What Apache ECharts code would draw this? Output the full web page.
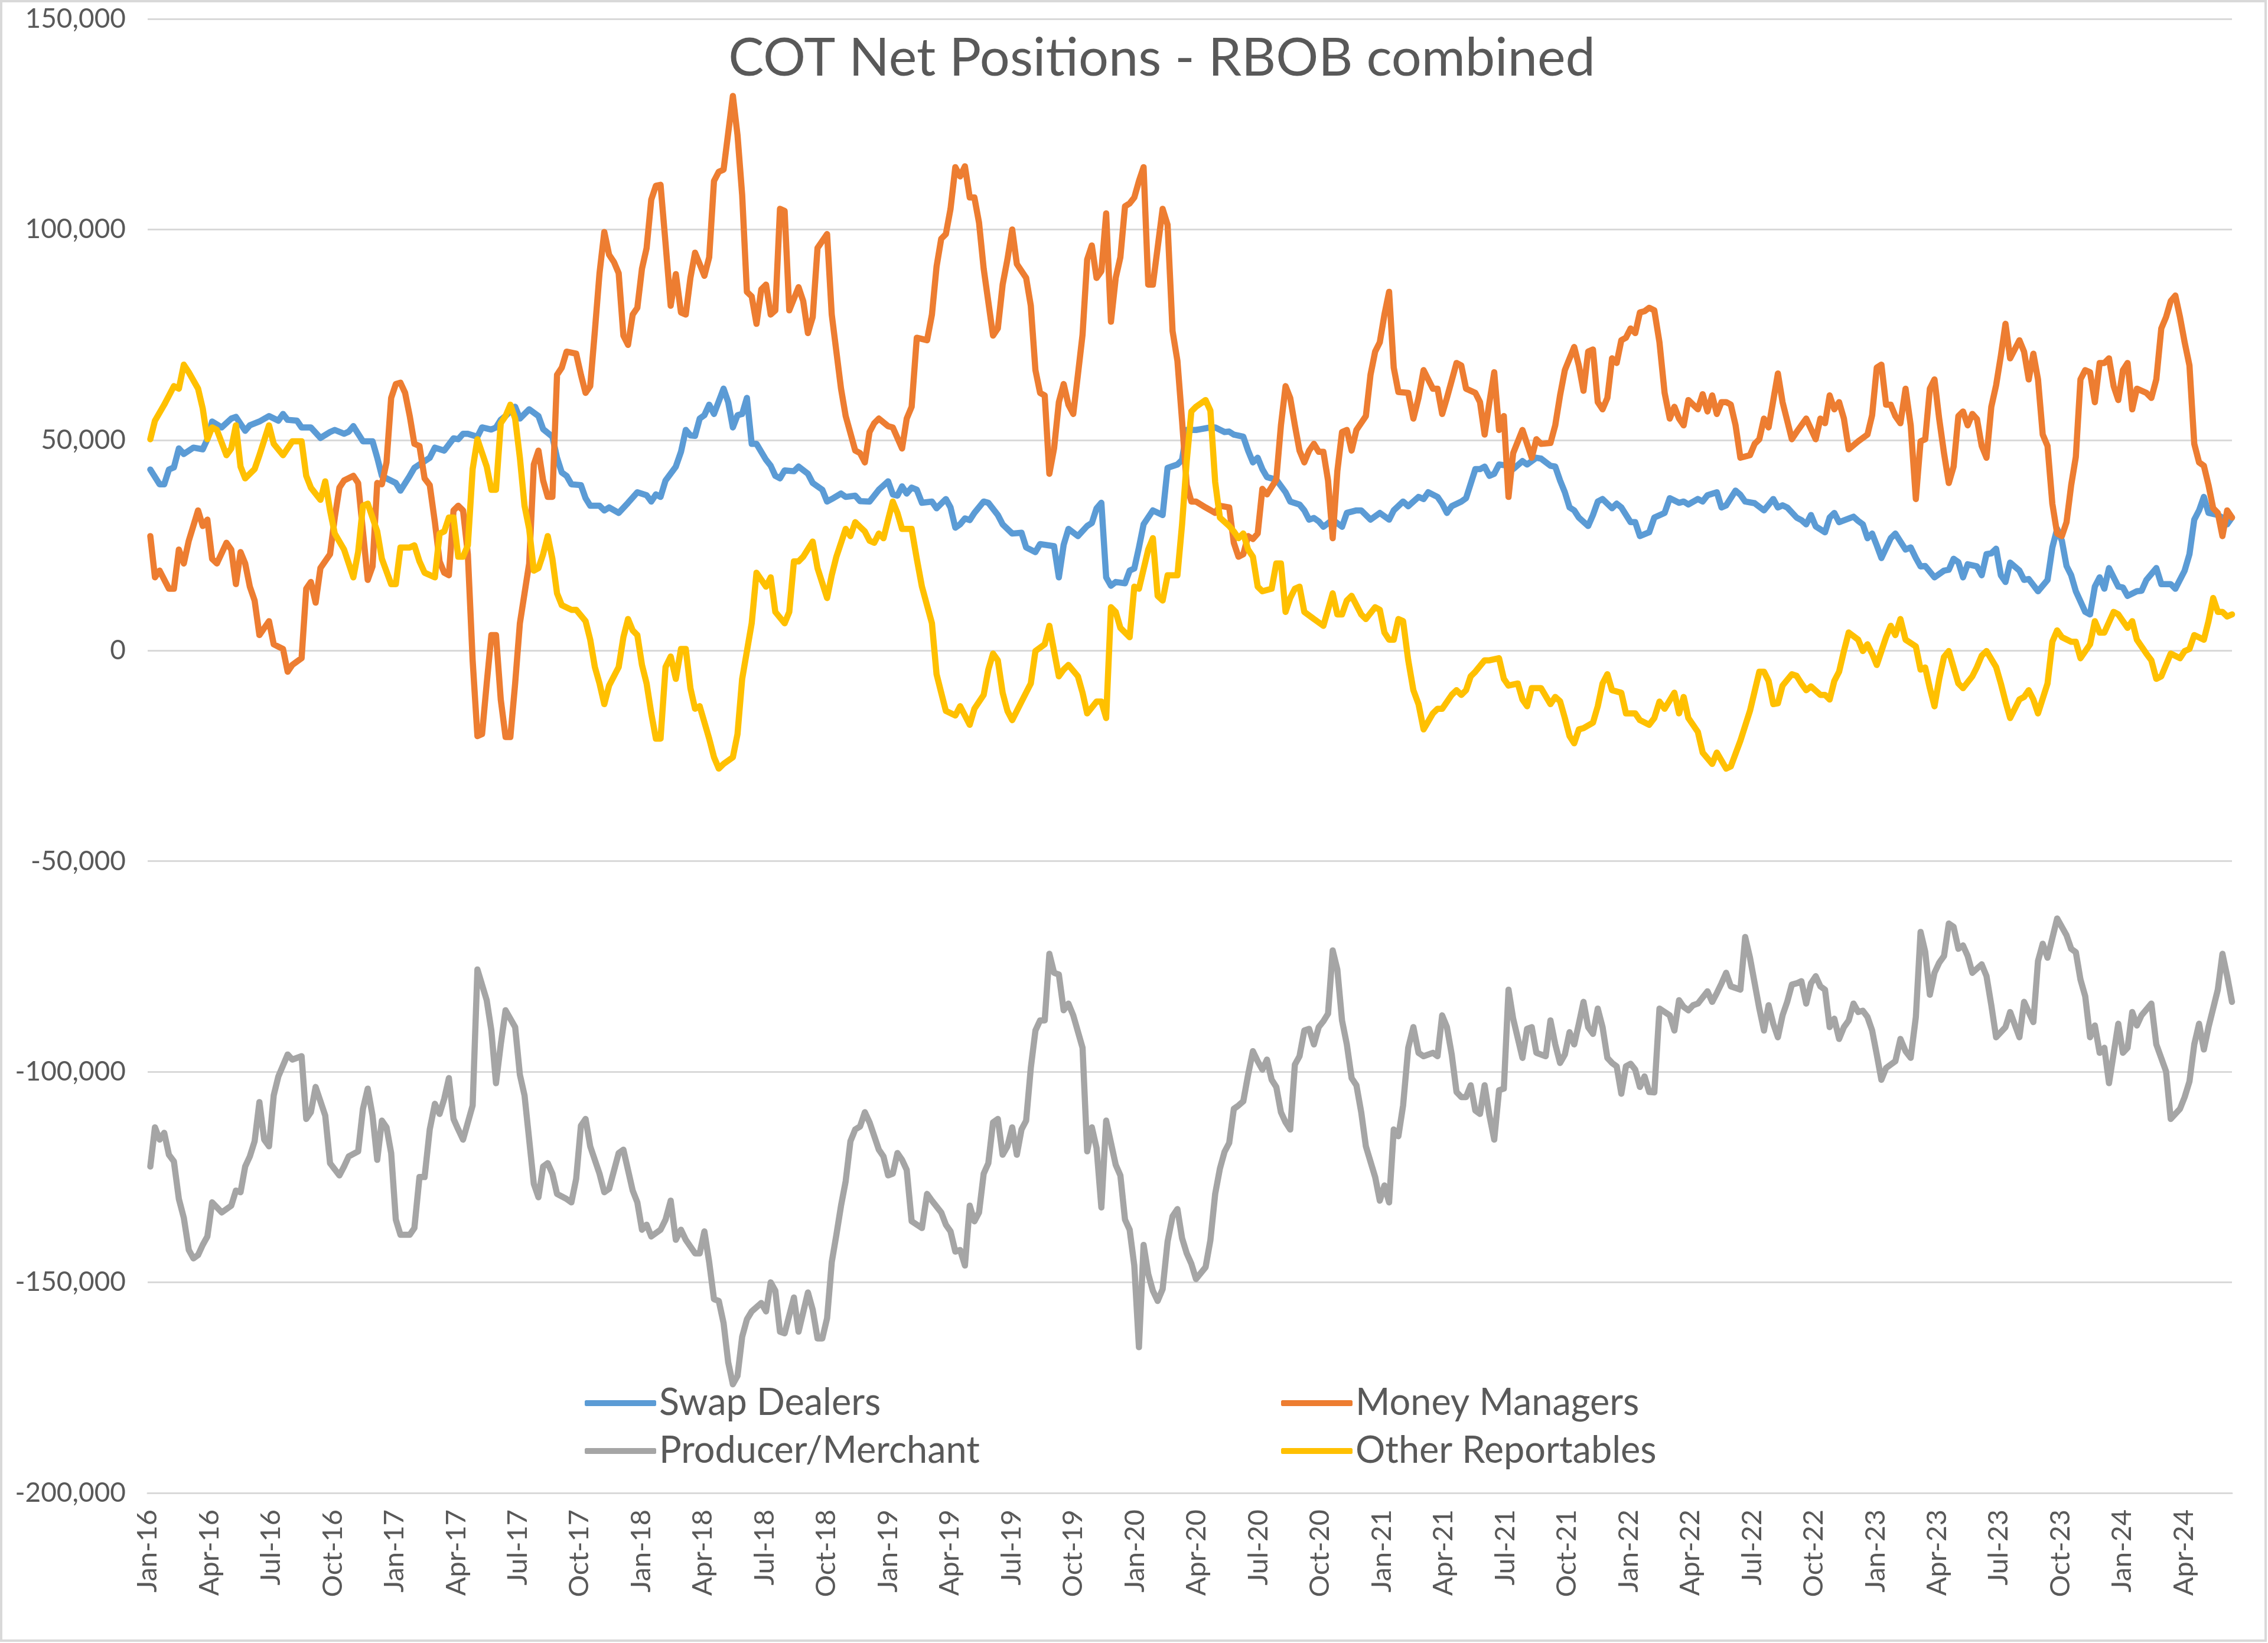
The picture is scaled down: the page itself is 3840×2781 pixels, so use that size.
<!DOCTYPE html>
<html><head><meta charset="utf-8">
<script src="https://cdn.jsdelivr.net/npm/echarts@6/dist/echarts.min.js"></script>
<style>html,body{margin:0;padding:0;background:#fff}#c{width:3840px;height:2781px}</style>
</head><body><div id="c"></div>
<script>
// Weekly COT report dates start on this Tuesday; points are [weekIndex, net position]
const START_DATE = Date.UTC(2016, 0, 5);
const LAST_WEEK = 440;
const QUARTER_LABELS = ['Jan', 'Apr', 'Jul', 'Oct'];
const TITLE = 'COT Net Positions - RBOB combined';

const swapDealers = [[0,43000],[2,39500],[3,39500],[4,43000],[5,43500],[6,48000],[7,46700],[9,48200],[11,47800],[12,50200],[13,54400],[15,53000],[17,55100],[18,55500],[20,52200],[21,53500],[23,54400],[25,55700],[27,54600],[28,56200],[29,54800],[31,54600],[32,53000],[34,53000],[36,50500],[38,51900],[39,52400],[41,51500],[42,52000],[43,53300],[45,49700],[47,49700],[48,45800],[49,41500],[50,40900],[52,39800],[53,38000],[55,41500],[56,43400],[58,45000],[59,45800],[60,48200],[62,47500],[64,50400],[65,50200],[66,51500],[67,51500],[69,50800],[70,53000],[72,52500],[73,53000],[74,54800],[75,55700],[77,57900],[78,55100],[80,57300],[82,55700],[83,52600],[85,50800],[86,45800],[87,42300],[88,41500],[89,39500],[91,39300],[92,36200],[93,34400],[95,34400],[96,33300],[97,34000],[99,32700],[101,35100],[103,37600],[105,36900],[106,35400],[107,37100],[108,36500],[109,40400],[111,43700],[112,47200],[113,52400],[114,51100],[115,51000],[116,55100],[117,55900],[118,58400],[119,56200],[121,62200],[122,59000],[123,53000],[124,55900],[125,56200],[126,60000],[127,49100],[128,49100],[130,45300],[131,43900],[132,41500],[133,40900],[134,42800],[136,42600],[137,43700],[139,42000],[140,39800],[142,38200],[143,35400],[144,36000],[146,37300],[147,36500],[149,36800],[150,35500],[152,35400],[154,38200],[156,40200],[157,37100],[158,36800],[159,39000],[160,37300],[161,38700],[162,38200],[163,35100],[165,35400],[166,33800],[168,36000],[169,34000],[170,29200],[171,30000],[172,31400],[173,31000],[174,32700],[176,35400],[177,35100],[179,32200],[180,30000],[182,27800],[184,28000],[185,24500],[187,23400],[188,25300],[191,24800],[192,17400],[193,25100],[194,28900],[196,27200],[198,29600],[199,30300],[200,33800],[201,35100],[202,17400],[203,15400],[204,16300],[206,16000],[207,19000],[208,19500],[209,24500],[210,30000],[212,33300],[214,32200],[215,43400],[217,44200],[218,45300],[219,52400],[221,52400],[222,52600],[224,53000],[225,53000],[227,51900],[228,52000],[229,51300],[231,50800],[232,47500],[233,44700],[234,45800],[235,43100],[236,41200],[238,40600],[240,37600],[241,35400],[243,34700],[244,33300],[245,31100],[246,31500],[247,30700],[248,29400],[250,31100],[252,29400],[253,32700],[255,33300],[256,33300],[258,31100],[260,32700],[262,31100],[263,33300],[265,35400],[266,34300],[268,36500],[269,36000],[270,37600],[272,36500],[273,34900],[274,32700],[275,34300],[277,35400],[278,36200],[280,43100],[281,43100],[282,43700],[283,41500],[284,42000],[285,44200],[287,43900],[288,43100],[290,45000],[291,44200],[293,45800],[294,45600],[296,43900],[297,43700],[298,40400],[299,37600],[300,34000],[301,33300],[302,31600],[304,29600],[305,32200],[306,35400],[307,36000],[309,33800],[310,34900],[311,34000],[313,30500],[314,30500],[315,27200],[317,28100],[318,31600],[320,32700],[321,36200],[323,35100],[324,35400],[325,34700],[327,36000],[328,35400],[329,36900],[331,37600],[332,34000],[333,34500],[335,38000],[336,37000],[337,35400],[339,35000],[341,33300],[343,36000],[344,34000],[345,34500],[346,34000],[348,31600],[349,31000],[350,30000],[351,32200],[352,29500],[354,28100],[355,31600],[356,32700],[357,30500],[360,31800],[361,30800],[362,30000],[363,26700],[364,27800],[365,25000],[366,22000],[368,26700],[369,27800],[371,24000],[372,24500],[373,22000],[374,20000],[375,20100],[377,17400],[379,19000],[380,19200],[381,21800],[382,21000],[383,17400],[384,20500],[386,20000],[387,17900],[388,22900],[389,23100],[390,24200],[391,17900],[392,16300],[393,20900],[395,19000],[396,16800],[397,17000],[399,14100],[401,16800],[402,24500],[403,28900],[404,26100],[405,20100],[406,17900],[407,14100],[409,9200],[410,8600],[411,15200],[412,17400],[413,14700],[414,19600],[416,15200],[417,15000],[418,13000],[420,14100],[421,14200],[422,16800],[424,19600],[425,15800],[427,15800],[428,14700],[430,19000],[431,22900],[432,31100],[433,33300],[434,36500],[435,32700],[437,32200],[438,31600],[439,30000],[440,31600]];

const moneyManagers = [[0,27200],[1,17400],[2,19000],[4,14700],[5,14700],[6,24000],[7,20700],[8,26100],[10,33300],[11,29600],[12,31100],[13,21800],[14,20700],[16,25600],[17,24000],[18,15800],[19,23400],[20,20700],[21,15200],[22,11900],[23,3700],[25,7000],[26,1500],[28,400],[29,-5000],[30,-3400],[32,-1800],[33,14700],[34,16300],[35,11400],[36,19600],[38,22900],[39,31600],[40,38700],[41,40400],[43,41500],[44,39800],[45,28300],[46,16800],[47,20000],[48,39800],[49,39500],[50,44700],[51,60000],[52,63300],[53,63600],[54,61200],[55,55700],[56,49100],[57,48600],[58,40900],[59,39300],[60,30500],[61,21200],[62,18500],[63,17900],[64,33300],[65,34400],[66,33300],[67,22900],[68,-2300],[69,-20300],[70,-19800],[71,-7800],[72,3700],[73,3700],[74,-11600],[75,-20500],[76,-20500],[77,-7800],[78,6500],[79,13600],[80,20700],[81,44200],[82,47500],[83,40400],[84,36500],[85,36500],[86,65500],[87,67200],[88,71000],[90,70500],[91,65500],[92,61200],[93,62800],[94,75900],[95,89600],[96,99400],[97,94000],[98,92300],[99,89600],[100,74800],[101,72600],[102,79800],[103,81400],[104,90700],[105,95600],[106,107100],[107,110400],[108,110600],[109,96700],[110,81900],[111,89400],[112,80300],[113,79800],[114,88500],[115,94500],[116,91800],[117,89000],[118,93400],[119,111500],[120,113700],[121,114200],[123,131700],[124,122400],[125,108200],[126,85200],[127,84100],[128,77600],[129,85800],[130,86900],[131,79800],[132,80800],[133,104900],[134,104400],[135,80800],[137,86300],[138,83000],[139,75400],[140,79200],[141,95600],[143,98900],[144,79800],[146,62200],[147,55700],[149,47500],[150,46900],[151,44700],[152,51900],[153,54000],[154,55100],[156,53300],[157,53000],[159,48000],[160,55100],[161,57900],[162,74300],[164,73700],[165,79800],[166,91200],[167,97800],[168,98900],[169,104900],[170,114800],[171,112600],[172,115000],[173,107600],[174,107600],[175,101600],[176,90700],[178,74800],[179,76500],[180,86900],[181,92900],[182,100000],[183,91800],[185,88500],[186,81900],[187,66600],[188,61200],[189,60600],[190,42000],[191,48000],[192,59000],[193,63300],[194,58400],[195,56200],[196,65500],[197,75000],[198,92900],[199,96200],[200,88500],[201,90100],[202,103800],[203,78100],[204,88500],[205,93400],[206,105500],[207,106200],[208,107600],[209,111500],[210,114800],[211,86900],[212,86900],[214,104900],[215,101100],[216,75900],[217,68800],[218,54600],[219,39300],[220,35400],[221,35400],[223,34000],[225,32700],[226,34400],[228,34000],[229,25600],[230,22300],[231,22900],[232,27200],[233,26500],[234,27800],[235,38400],[236,37100],[238,40600],[239,53500],[240,62800],[241,60000],[242,53500],[243,47500],[244,44700],[245,47500],[246,49100],[247,47200],[248,47200],[249,40400],[250,26700],[251,42600],[252,51900],[253,52400],[254,47500],[255,52400],[257,55700],[258,65500],[259,71000],[260,73200],[261,79800],[262,85200],[263,67200],[264,61400],[266,61200],[267,55100],[268,60000],[269,66600],[271,62200],[272,62200],[273,56200],[274,60000],[276,68300],[277,67700],[278,62200],[280,61200],[281,59000],[282,51300],[283,59000],[284,66100],[285,52400],[286,55700],[287,36500],[288,46900],[290,52400],[292,45800],[293,50200],[294,49100],[296,49300],[297,53500],[298,60600],[299,66600],[301,72100],[302,67700],[303,61700],[304,71000],[305,71500],[306,59000],[307,57300],[308,60000],[309,69400],[310,68300],[311,73700],[312,74300],[313,76500],[314,75400],[315,80300],[316,80600],[317,81400],[318,80800],[319,73200],[320,61200],[321,55100],[322,57900],[323,55100],[324,53500],[325,59500],[327,57300],[328,60900],[329,56800],[330,60600],[331,56200],[332,59000],[333,59000],[334,58400],[335,53500],[336,45800],[338,46400],[339,49100],[340,50200],[341,55100],[342,53000],[344,65800],[345,59000],[346,54600],[347,50200],[348,51900],[350,55100],[352,50200],[353,55100],[354,54000],[355,60600],[356,57300],[357,59000],[358,55100],[359,47800],[361,49700],[363,51300],[364,55900],[365,67200],[366,67900],[367,58400],[368,58400],[369,55700],[370,54000],[371,62200],[372,53500],[373,36000],[374,49700],[375,50200],[376,62200],[377,64400],[378,55000],[379,46900],[380,39800],[381,43700],[382,55700],[383,56800],[384,53500],[385,56200],[386,55000],[387,48600],[388,45800],[389,57900],[390,63000],[391,70000],[392,77600],[393,69400],[395,73700],[396,71000],[397,64400],[398,70500],[399,64400],[400,51300],[401,48600],[402,34900],[403,27800],[404,27200],[405,30500],[406,39300],[407,46000],[408,64400],[409,66600],[410,66100],[411,59000],[412,68300],[413,68300],[414,69400],[415,62800],[416,59500],[417,66600],[418,68300],[419,57300],[420,62200],[422,61200],[423,60000],[424,64400],[425,76500],[426,79200],[427,83000],[428,84300],[429,79200],[430,73200],[431,67700],[432,49100],[433,44700],[434,43900],[435,39300],[436,33800],[437,32700],[438,27200],[439,33300],[440,31600]];

const producerMerchant = [[0,-122500],[1,-113200],[2,-116100],[3,-114500],[4,-119700],[5,-121300],[6,-130200],[7,-134700],[8,-142300],[9,-144300],[10,-143500],[11,-141100],[12,-139100],[13,-131000],[14,-132200],[15,-133400],[17,-131800],[18,-128200],[19,-128600],[20,-122500],[21,-120100],[22,-116500],[23,-107200],[24,-116100],[25,-117700],[26,-105600],[27,-101100],[29,-95900],[30,-97100],[32,-96300],[33,-111200],[34,-109600],[35,-103600],[37,-110400],[38,-121700],[40,-124600],[41,-122500],[42,-120100],[44,-118900],[45,-108800],[46,-104000],[47,-110400],[48,-120900],[49,-111600],[50,-113200],[51,-119300],[52,-135100],[53,-138700],[55,-138700],[56,-137100],[57,-125000],[58,-125000],[59,-113700],[60,-107600],[61,-110000],[62,-106400],[63,-101500],[64,-111200],[65,-113700],[66,-116100],[68,-108000],[69,-75700],[71,-83000],[72,-90200],[73,-102700],[74,-93500],[75,-85400],[77,-89400],[78,-100700],[79,-105600],[81,-126600],[82,-129800],[83,-122500],[84,-121700],[85,-124200],[86,-129000],[88,-130200],[89,-131000],[90,-125400],[91,-112800],[92,-111200],[93,-117700],[95,-124200],[96,-128600],[97,-127800],[99,-119300],[100,-118500],[102,-128200],[103,-131000],[104,-137500],[105,-136300],[106,-139100],[108,-137500],[109,-135100],[110,-130600],[111,-139900],[112,-137500],[113,-139900],[115,-143100],[116,-143100],[117,-137900],[118,-145200],[119,-154000],[120,-154400],[121,-159700],[122,-169000],[123,-174200],[124,-172200],[125,-162900],[126,-158800],[127,-156900],[129,-154900],[130,-156900],[131,-150000],[132,-152000],[133,-161700],[134,-162100],[136,-153600],[137,-161700],[139,-152400],[140,-156500],[141,-163300],[142,-163300],[143,-158500],[144,-145200],[145,-138700],[146,-131800],[147,-126000],[148,-116500],[149,-113700],[150,-113000],[151,-109600],[152,-112000],[154,-118500],[155,-120100],[156,-124600],[157,-124200],[158,-119300],[159,-120900],[160,-123300],[161,-135500],[163,-137100],[164,-129000],[165,-130600],[167,-133400],[168,-136300],[169,-137900],[170,-142700],[171,-142300],[172,-146000],[173,-131800],[174,-135500],[175,-133400],[176,-124200],[177,-121700],[178,-112000],[179,-111200],[180,-119700],[181,-117700],[182,-113200],[183,-119700],[184,-113700],[185,-111600],[186,-99100],[187,-90200],[188,-87800],[189,-87800],[190,-72000],[191,-76500],[192,-76900],[193,-85400],[194,-83800],[195,-86600],[197,-94300],[198,-118900],[199,-113200],[200,-118100],[201,-132200],[202,-111600],[204,-122100],[205,-124600],[206,-135100],[207,-137500],[208,-146000],[209,-165400],[210,-141100],[211,-148000],[212,-152000],[213,-154400],[214,-151600],[215,-140300],[216,-134300],[217,-132600],[218,-139500],[219,-143100],[220,-145600],[221,-149200],[223,-146400],[224,-140000],[225,-129000],[226,-123000],[227,-119000],[228,-116900],[229,-108800],[230,-108000],[231,-107000],[232,-100700],[233,-95100],[234,-97500],[235,-99500],[236,-97100],[237,-101900],[238,-103600],[239,-109600],[240,-112000],[241,-113700],[242,-98300],[243,-96300],[244,-90200],[245,-89800],[246,-93500],[247,-89400],[248,-88000],[249,-86200],[250,-71200],[251,-75700],[252,-87800],[253,-93500],[254,-101500],[255,-103200],[256,-109600],[257,-117700],[259,-125000],[260,-130600],[261,-127000],[262,-131000],[263,-113700],[264,-115300],[265,-108000],[266,-94300],[267,-89400],[268,-95500],[269,-96300],[271,-95500],[272,-96300],[273,-86600],[274,-89400],[275,-95900],[276,-104800],[277,-106000],[278,-106000],[279,-103200],[280,-109200],[281,-110000],[282,-103200],[283,-110400],[284,-116100],[285,-104400],[286,-104000],[287,-80500],[288,-87400],[290,-96700],[291,-89800],[292,-89400],[293,-95500],[295,-96300],[296,-87800],[297,-93500],[298,-97900],[299,-95900],[300,-90600],[301,-93500],[302,-88600],[303,-83400],[304,-89400],[305,-91000],[306,-85000],[307,-89400],[308,-96700],[309,-97900],[310,-98700],[311,-105200],[312,-98700],[313,-98100],[314,-99500],[315,-103600],[316,-101100],[317,-104800],[318,-104900],[319,-85000],[321,-86600],[322,-90200],[323,-83000],[324,-84600],[325,-85400],[326,-84200],[327,-83800],[329,-80900],[330,-83400],[331,-81300],[332,-79000],[333,-76500],[334,-79700],[335,-80100],[336,-80500],[337,-68000],[338,-72900],[339,-79000],[340,-85000],[341,-90200],[342,-84200],[343,-88600],[344,-91800],[345,-86600],[346,-83400],[347,-79300],[348,-79000],[349,-78500],[350,-83800],[351,-79000],[352,-77300],[353,-79700],[354,-80500],[355,-89400],[356,-87400],[357,-92200],[358,-89400],[359,-87800],[360,-83800],[361,-85800],[362,-85500],[363,-87000],[364,-90200],[365,-95900],[366,-101900],[367,-99100],[369,-97500],[370,-92200],[371,-95100],[372,-96700],[373,-87000],[374,-66800],[375,-71500],[376,-81700],[377,-76500],[378,-74100],[379,-72500],[380,-64800],[381,-65600],[382,-70800],[383,-70000],[384,-72500],[385,-76500],[387,-74500],[388,-77300],[389,-84200],[390,-91800],[392,-89400],[393,-85800],[395,-91800],[396,-83400],[398,-88200],[399,-73700],[400,-69600],[401,-72900],[403,-63600],[405,-67600],[406,-70800],[407,-71600],[408,-78100],[409,-82100],[410,-91800],[411,-89000],[412,-95500],[413,-94300],[414,-102700],[416,-88600],[417,-95500],[418,-94300],[419,-85800],[420,-89000],[421,-86600],[423,-83800],[424,-93500],[426,-99900],[427,-111200],[429,-108800],[430,-106000],[431,-102300],[432,-93500],[433,-88600],[434,-94700],[435,-89400],[437,-80500],[438,-72000],[439,-77300],[440,-83400]];

const otherReportables = [[0,50200],[1,54600],[3,58400],[5,62800],[6,62200],[7,67900],[8,66100],[10,62200],[11,57500],[12,50200],[13,53000],[14,52400],[16,46400],[17,48000],[18,53500],[19,43700],[20,40900],[22,43100],[23,46400],[25,53500],[26,49100],[28,46400],[30,49700],[32,49700],[33,41500],[34,38700],[36,35800],[37,40200],[38,33300],[39,27800],[41,24000],[43,17400],[44,23400],[45,34400],[46,34900],[48,28300],[49,21800],[51,15800],[52,15800],[53,24500],[55,24500],[56,25000],[57,21200],[58,18500],[60,17400],[61,27800],[62,28300],[63,31600],[64,31600],[65,22300],[66,22300],[67,25000],[68,43100],[69,50200],[71,43700],[72,38200],[73,38200],[74,54000],[75,55700],[76,58400],[77,55100],[78,45800],[79,34400],[80,28900],[81,19000],[82,19600],[83,22900],[84,27200],[85,21800],[86,13600],[87,10800],[89,9700],[90,9700],[92,7000],[93,2600],[94,-3900],[95,-7800],[96,-12700],[97,-8300],[99,-3900],[100,3200],[101,7500],[102,4800],[103,3700],[104,-3400],[105,-7800],[106,-14900],[107,-20900],[108,-20900],[109,-3900],[110,-1400],[111,-6700],[112,400],[113,400],[114,-8900],[115,-13800],[116,-13200],[118,-20900],[119,-25300],[120,-28000],[121,-26900],[123,-25300],[124,-19800],[125,-6700],[127,6500],[128,18500],[130,15200],[131,17400],[132,9200],[134,6500],[135,9200],[136,21200],[137,21200],[138,22300],[140,25900],[141,19600],[143,12500],[144,17900],[145,22300],[147,28900],[148,27200],[149,30500],[150,29400],[151,28300],[152,26100],[153,25600],[154,27800],[155,26700],[156,31100],[157,35400],[158,32700],[159,28900],[161,28900],[162,21800],[163,15200],[165,6500],[166,-5600],[167,-10000],[168,-14300],[170,-15400],[171,-13200],[173,-17600],[174,-13800],[176,-10500],[177,-4500],[178,-700],[179,-2300],[180,-10000],[181,-14300],[182,-16500],[184,-12100],[186,-7800],[187,-100],[189,1500],[190,5900],[191,-100],[192,-6100],[193,-4500],[194,-3400],[196,-6100],[197,-10000],[198,-14900],[200,-12100],[201,-12100],[202,-16000],[203,10300],[204,9200],[205,5400],[207,3200],[208,15200],[209,14700],[211,24000],[212,26700],[213,13000],[214,11900],[215,17900],[217,17900],[218,30000],[219,45000],[220,56800],[221,57900],[223,59500],[224,57000],[225,40000],[226,31600],[228,29600],[229,28300],[230,26700],[231,27800],[232,24000],[233,22300],[234,15200],[235,14100],[237,14700],[238,20700],[239,20700],[240,9200],[241,12500],[242,14700],[243,15200],[244,9200],[246,7500],[248,5900],[250,13600],[251,8600],[252,8600],[253,11900],[254,13000],[256,8600],[257,7500],[259,10300],[260,9700],[261,4300],[262,2600],[263,2600],[264,7500],[265,7000],[266,-2300],[267,-9400],[268,-12700],[269,-18700],[271,-14900],[272,-13800],[273,-13800],[275,-10500],[276,-9400],[277,-10500],[278,-9400],[279,-6100],[280,-5000],[282,-2300],[283,-2300],[285,-1800],[286,-6700],[287,-8300],[289,-7800],[290,-11600],[291,-13200],[292,-8900],[294,-8900],[296,-12700],[297,-11000],[298,-12000],[299,-16000],[300,-20300],[301,-22000],[302,-18700],[303,-18400],[305,-17100],[306,-13200],[307,-7800],[308,-5600],[309,-9400],[311,-10000],[312,-14900],[314,-14900],[315,-16500],[317,-17600],[318,-16000],[319,-12100],[320,-13800],[322,-10000],[323,-14900],[324,-11000],[325,-16000],[327,-19300],[328,-24200],[330,-26900],[331,-24200],[333,-28000],[334,-27500],[336,-21400],[338,-14300],[340,-5000],[341,-5000],[342,-7200],[343,-12700],[344,-12500],[345,-8300],[347,-5600],[348,-6000],[349,-7800],[350,-9400],[351,-8500],[353,-10500],[354,-10500],[355,-11600],[356,-7200],[357,-5000],[358,-100],[359,4300],[361,2600],[362,-100],[363,1500],[364,-700],[365,-3400],[367,3200],[368,5900],[369,3700],[370,7500],[371,2600],[373,1000],[374,-4500],[375,-4000],[376,-8900],[377,-13200],[378,-6700],[379,-1500],[380,-100],[382,-7800],[383,-8900],[385,-6100],[386,-3900],[387,-1200],[388,-100],[390,-3900],[391,-7800],[392,-12100],[393,-16000],[395,-11600],[396,-11000],[397,-9400],[398,-11600],[399,-14900],[401,-7800],[402,2100],[403,4800],[404,3200],[406,2100],[407,2100],[408,-1800],[410,1500],[411,7000],[412,4300],[413,4300],[415,9200],[416,8600],[418,5400],[419,7000],[420,2600],[422,-700],[423,-2300],[424,-6700],[425,-6100],[427,-700],[429,-1800],[430,-100],[431,400],[432,3700],[434,2600],[435,7000],[436,12500],[437,9200],[438,9200],[439,8100],[440,8600]];

const SERIES = [
  { name: 'Swap Dealers', data: swapDealers, color: '#5B9BD5' },
  { name: 'Money Managers', data: moneyManagers, color: '#ED7D31' },
  { name: 'Producer/Merchant', data: producerMerchant, color: '#A5A5A5' },
  { name: 'Other Reportables', data: otherReportables, color: '#FFC000' }
];

// week index -> position in months since Jan 2016 (date axis)
function monthPos(w) {
  const d = new Date(START_DATE + w * 7 * 86400000);
  const y = d.getUTCFullYear(), m = d.getUTCMonth(), day = d.getUTCDate();
  const dim = new Date(Date.UTC(y, m + 1, 0)).getUTCDate();
  return (y - 2016) * 12 + m + (day - 1) / dim;
}
function withCommas(v) { return String(v).replace(/\B(?=(\d{3})+(?!\d))/g, ','); }

const FONT = 'Lato';
const TXT = '#595959';
const chart = echarts.init(document.getElementById('c'), null, { renderer: 'canvas' });
chart.setOption({
  animation: false,
  backgroundColor: '#ffffff',
  textStyle: { fontFamily: FONT },
  grid: { left: 250, right: 61, top: 32, bottom: 254, containLabel: false },
  title: {
    text: TITLE, left: 1967, top: 54, textAlign: 'center', padding: 0,
    textStyle: { fontFamily: FONT, fontSize: 90, fontWeight: 'normal', color: TXT, lineHeight: 90 }
  },
  xAxis: {
    type: 'value', min: 0, max: monthPos(LAST_WEEK), interval: 3,
    splitLine: { show: false },
    axisLine: { show: true, onZero: false, lineStyle: { color: '#d9d9d9', width: 3 } },
    axisTick: { show: false },
    axisLabel: {
      rotate: 90, margin: 28, fontSize: 47, color: TXT, fontFamily: FONT,
      showMaxLabel: false, showMinLabel: true,
      formatter: function (v) {
        const m = Math.round(v);
        if (Math.abs(v - m) > 1e-6 || m % 3 !== 0) return '';
        return QUARTER_LABELS[(m % 12) / 3] + '-' + (16 + Math.floor(m / 12));
      }
    }
  },
  yAxis: {
    type: 'value', min: -200000, max: 150000, interval: 50000,
    axisLine: { show: false }, axisTick: { show: false },
    splitLine: { lineStyle: { color: '#d9d9d9', width: 3 } },
    axisLabel: { margin: 37, fontSize: 46, color: TXT, fontFamily: FONT, formatter: withCommas }
  },
  legend: [
    { data: ['Swap Dealers', 'Producer/Merchant'], orient: 'vertical', left: 990, top: 2343,
      itemWidth: 121, itemHeight: 10, itemGap: 17, icon: 'roundRect', padding: 0,
      textStyle: { fontFamily: FONT, fontSize: 63, color: TXT, lineHeight: 64 } },
    { data: ['Money Managers', 'Other Reportables'], orient: 'vertical', left: 2169, top: 2343,
      itemWidth: 121, itemHeight: 10, itemGap: 17, icon: 'roundRect', padding: 0,
      textStyle: { fontFamily: FONT, fontSize: 63, color: TXT, lineHeight: 64 } }
  ],
  graphic: [{
    type: 'rect', shape: { x: 2, y: 2, width: 3834, height: 2775 },
    style: { fill: 'none', stroke: '#d9d9d9', lineWidth: 4 }, silent: true, z: 100
  }],
  series: SERIES.map(s => ({
    name: s.name, type: 'line', showSymbol: false, symbol: 'none',
    data: s.data.map(p => [monthPos(p[0]), p[1]]),
    color: s.color,
    itemStyle: { color: s.color },
    lineStyle: { color: s.color, width: 10.5, cap: 'round', join: 'round' }
  }))
});
</script>
</body></html>
